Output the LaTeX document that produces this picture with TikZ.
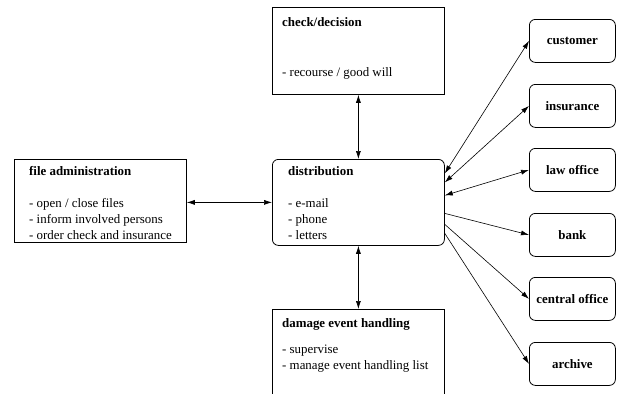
\documentclass[tikz,border=0pt]{standalone}
\usepackage{fontspec}
\setmainfont{Liberation Serif}
\usetikzlibrary{arrows.meta}
\begin{document}
\begin{tikzpicture}[x=1pt,y=-1pt,
  every node/.style={font=\fontsize{12.9}{16}\selectfont},
  panel/.style={draw,line width=0.8pt,inner sep=0pt,anchor=north west,
    minimum width=172pt},
  roundpanel/.style={panel,rounded corners=6pt},
  party/.style={draw,line width=0.8pt,rounded corners=6pt,inner sep=0pt,
    minimum width=86pt,minimum height=43pt,anchor=north west,
    font=\fontsize{12.9}{16}\selectfont\bfseries},
  head/.style={anchor=base west,inner sep=0pt,font=\fontsize{12.9}{16}\selectfont\bfseries},
  item/.style={anchor=base west,inner sep=0pt},
  link/.style={line width=0.6pt,{Latex[length=8pt,width=5pt]}-{Latex[length=8pt,width=5pt]}},
  send/.style={line width=0.6pt,-{Latex[length=8pt,width=5pt]}}
]
\useasboundingbox (0,0) rectangle (622,394);

% central blocks
\node[panel,minimum height=87pt] (check) at (272,7) {};
\node[head] (checkT) at (282,26) {check/decision};
\node[item] (checkA) at (282,76) {- recourse / good will};

\node[panel,minimum height=83pt] (admin) at (14,159) {};
\node[head] (adminT) at (29,175) {file administration};
\node[item] (adminA) at (29,207) {- open / close files};
\node[item] (adminB) at (29,223) {- inform involved persons};
\node[item] (adminC) at (29,239) {- order check and insurance};

\node[roundpanel,minimum height=86pt] (dist) at (272,159) {};
\node[head] (distT) at (288,175) {distribution};
\node[item] (distA) at (288,207) {- e-mail};
\node[item] (distB) at (288,223) {- phone};
\node[item] (distC) at (288,239) {- letters};

\node[panel,minimum height=95pt] (damage) at (272,309) {};
\node[head] (damageT) at (282,327) {damage event handling};
\node[item] (damageA) at (282,353) {- supervise};
\node[item] (damageB) at (282,369) {- manage event handling list};

% external parties
\node[party] (customer) at (529,19) {customer};
\node[party] (insurance) at (529,84) {insurance};
\node[party] (law) at (529,148) {law office};
\node[party] (bank) at (529,213) {bank};
\node[party] (central) at (529,277) {central office};
\node[party] (archive) at (529,342) {archive};

% connectors
\draw[link] (admin.east |- dist.west) -- (dist.west);
\draw[link] (check.south) -- (dist.north);
\draw[link] (dist.south) -- (damage.north);

\draw[link] ([yshift=29pt]dist.east) -- (customer.west);
\draw[link] ([yshift=20pt]dist.east) -- (insurance.west);
\draw[link] ([yshift=7pt]dist.east) -- (law.west);
\draw[send] ([yshift=-11pt]dist.east) -- (bank.west);
\draw[send] ([yshift=-22pt]dist.east) -- (central.west);
\draw[send] ([yshift=-31pt]dist.east) -- (archive.west);
\end{tikzpicture}
\end{document}
